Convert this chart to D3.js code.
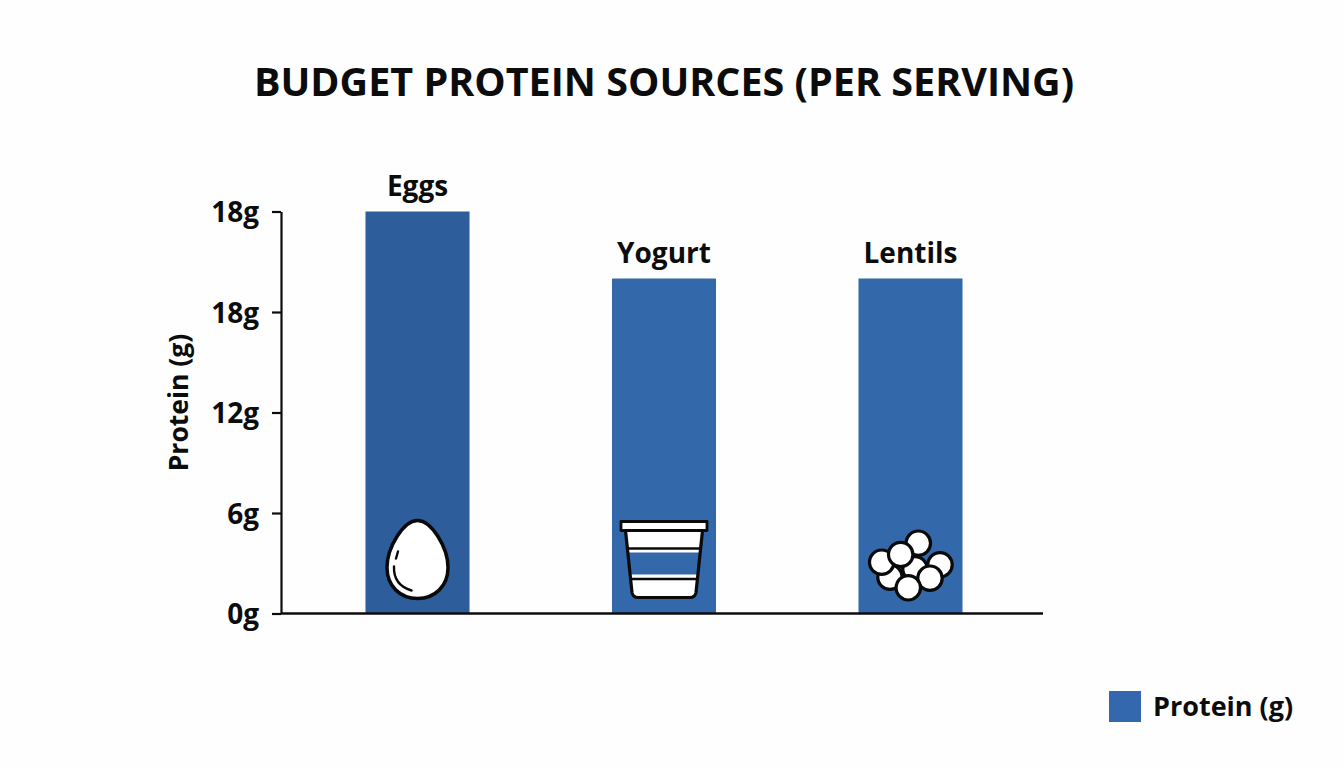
<!DOCTYPE html>
<html>
<head>
<meta charset="utf-8">
<script src="https://cdn.jsdelivr.net/npm/d3@7"></script>
<style>
  html, body { margin: 0; padding: 0; background: #fefefe; }
  svg { display: block; }
  text { font-family: "Open Sans", sans-serif; font-weight: 700; fill: #0c0c0c; }
</style>
</head>
<body>
<svg id="chart" width="1344" height="768"></svg>
<script>
// Chart content
const chartTitle = "BUDGET PROTEIN SOURCES (PER SERVING)";
const categories = ["Eggs", "Yogurt", "Lentils"];
const proteinValues = [24, 20, 20];
const barColors = ["#2e5d9b", "#3369aa", "#3369aa"];
const tickValues = [0, 6, 12, 18, 24];
const tickLabels = ["0g", "6g", "12g", "18g", "18g"];
const yAxisTitle = "Protein (g)";
const legendLabel = "Protein (g)";
const legendColor = "#3468ae";

// Lentil cluster: offset from the icon anchor, back to front
const lentilOffsets = [
  [4.5, -44.7], [29.5, -48.7], [-20.5, -36.3], [7.8, -70.3],
  [-28.8, -51.3], [-9.8, -59], [19.5, -35.3], [-2.2, -25.7]
];

const svg = d3.select("#chart");
const plot = { left: 281, right: 1043, top: 211.5, bottom: 613.5 };

const y = d3.scaleLinear().domain([0, 24]).range([plot.bottom, plot.top]);
const x = d3.scaleBand()
  .domain(categories)
  .range([294.25, 1033.75])
  .paddingInner(0.578)
  .paddingOuter(0.289);

// Title
svg.append("text")
  .attr("x", 664).attr("y", 96)
  .attr("text-anchor", "middle")
  .attr("font-size", 39.5)
  .text(chartTitle);

// Bars
svg.append("g").selectAll("rect")
  .data(categories)
  .join("rect")
  .attr("x", d => x(d))
  .attr("width", x.bandwidth())
  .attr("y", (d, i) => y(proteinValues[i]))
  .attr("height", (d, i) => y(0) - y(proteinValues[i]))
  .attr("fill", (d, i) => barColors[i]);

// Category labels above the bars
svg.append("g").selectAll("text")
  .data(categories)
  .join("text")
  .attr("x", d => x(d) + x.bandwidth() / 2)
  .attr("y", (d, i) => y(proteinValues[i]) - 15.5)
  .attr("text-anchor", "middle")
  .attr("font-size", 28)
  .text(d => d);

// Y axis
const yAxis = d3.axisLeft(y)
  .tickValues(tickValues)
  .tickFormat((d, i) => tickLabels[i])
  .tickSize(9)
  .tickPadding(13)
  .tickSizeOuter(0);

const yAxisG = svg.append("g")
  .attr("transform", `translate(${plot.left},0)`)
  .call(yAxis);
yAxisG.selectAll("path, line").attr("stroke", "#0c0c0c").attr("stroke-width", 2.2);
yAxisG.selectAll("text")
  .attr("font-size", 28)
  .attr("dy", "0.36em")
  .style("font-family", '"Open Sans", sans-serif');

// Baseline
svg.append("line")
  .attr("x1", plot.left).attr("x2", plot.right)
  .attr("y1", y(0)).attr("y2", y(0))
  .attr("stroke", "#0c0c0c").attr("stroke-width", 2.6);

// Y axis title
svg.append("text")
  .attr("transform", "translate(188,402.5) rotate(-90)")
  .attr("text-anchor", "middle")
  .attr("font-size", 26.5)
  .text(yAxisTitle);

// Icons sit at each bar's centre, measured up from the baseline
const iconInk = "#0a0a0a";
const iconWhite = "#ffffff";
const anchor = name => `translate(${x(name) + x.bandwidth() / 2},${y(0)})`;

// Egg
const egg = svg.append("g").attr("transform", anchor("Eggs"))
  .attr("fill", "none").attr("stroke", iconInk).attr("stroke-linecap", "round");
egg.append("path")
  .attr("d", "M0,-93 C14,-93 30.5,-66 30.5,-46 C30.5,-27 17,-15 0,-15 C-17,-15 -30.5,-27 -30.5,-46 C-30.5,-66 -14,-93 0,-93Z")
  .attr("fill", iconWhite).attr("stroke-width", 3.5);
egg.append("path").attr("d", "M-19.5,-62 L-21.5,-55").attr("stroke-width", 2.4);
egg.append("path").attr("d", "M-23.5,-47 C-24,-33 -16,-26 -6,-23").attr("stroke-width", 2.4);

// Yogurt cup
const cup = svg.append("g").attr("transform", anchor("Yogurt"))
  .attr("stroke", iconInk).attr("stroke-linejoin", "round");
cup.append("path")
  .attr("d", "M-38.5,-83 L-32,-21 Q-31,-16 -26,-16 L26,-16 Q31,-16 32,-21 L38.5,-83Z")
  .attr("fill", iconWhite).attr("stroke", "none");
cup.append("path")
  .attr("d", "M-36.2,-61 L36.2,-61 L33.9,-39 L-33.9,-39Z")
  .attr("fill", barColors[1]).attr("stroke", "none");
cup.append("line").attr("x1", -36.5).attr("x2", 36.5).attr("y1", -65).attr("y2", -65).attr("stroke-width", 2.4);
cup.append("line").attr("x1", -33.5).attr("x2", 33.5).attr("y1", -34.5).attr("y2", -34.5).attr("stroke-width", 2.4);
cup.append("path")
  .attr("d", "M-38.5,-83 L-32,-21 Q-31,-16 -26,-16 L26,-16 Q31,-16 32,-21 L38.5,-83")
  .attr("fill", "none").attr("stroke-width", 3.2);
cup.append("rect")
  .attr("x", -43).attr("y", -92).attr("width", 86).attr("height", 9)
  .attr("fill", iconWhite).attr("stroke-width", 2.8);

// Lentils
svg.append("g").attr("transform", anchor("Lentils"))
  .selectAll("circle")
  .data(lentilOffsets)
  .join("circle")
  .attr("cx", d => d[0]).attr("cy", d => d[1])
  .attr("r", 12.2)
  .attr("fill", iconWhite)
  .attr("stroke", iconInk)
  .attr("stroke-width", 3.2);

// Legend
svg.append("rect")
  .attr("x", 1109).attr("y", 691).attr("width", 32).attr("height", 31)
  .attr("fill", legendColor);
svg.append("text")
  .attr("x", 1153).attr("y", 716)
  .attr("font-size", 27)
  .text(legendLabel);
</script>
</body>
</html>
